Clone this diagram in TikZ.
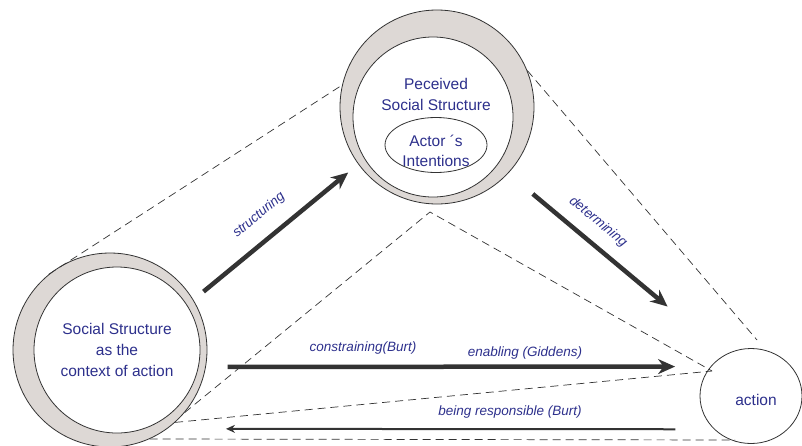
\documentclass[tikz,border=0pt]{standalone}
\usepackage{fontspec}
\setmainfont{Liberation Sans}
\usepackage{tikz}
\usetikzlibrary{arrows.meta,positioning,shapes}

\definecolor{textblue}{RGB}{45,48,140}
\definecolor{ringgray}{RGB}{221,216,213}
\definecolor{linegray}{RGB}{51,51,51}

\begin{document}
\begin{tikzpicture}[x=1pt, y=-1pt,
    ring/.style={circle, draw=linegray, line width=0.8pt, fill=ringgray, inner sep=0pt},
    hole/.style={circle, draw=linegray, line width=0.8pt, fill=white, inner sep=0pt},
    oval/.style={ellipse, draw=linegray, line width=0.8pt, fill=white, inner sep=0pt},
    txt/.style={text=textblue, font=\fontsize{15.5}{21}\selectfont, align=center},
    lbl/.style={text=textblue, font=\fontsize{13.5}{16}\selectfont\itshape},
    guide/.style={draw=linegray, line width=0.7pt, dash pattern=on 8pt off 5pt},
    push/.style={draw=linegray, line width=4.5pt, -{Stealth[length=17pt,width=15pt]}},
    back/.style={draw=linegray, line width=2pt, -{Stealth[length=9pt,width=8pt]}}]
    \useasboundingbox (0,0) rectangle (802,445);

    % Perceived structure (top)
    \node[ring, minimum size=194pt] (topout) at (437,107) {};
    \node[hole, minimum size=160pt] (topin) at (433,117) {};
    \node[oval, minimum width=102pt, minimum height=55pt] (intent) at (436,145) {};
    \node[txt] (topname) at (436,94) {Peceived\\Social Structure};
    \node[txt, font=\fontsize{15.5}{20}\selectfont] (intentname) at (436,151) {Actor ´s\\Intentions};

    % Social structure (left)
    \node[ring, minimum size=194pt] (ctxout) at (110,350) {};
    \node[hole, minimum size=166pt] (ctxin) at (117,350) {};
    \node[txt] (ctxname) at (117,350) {Social Structure\\as the\\context of action};

    % Action
    \node[oval, minimum width=102pt, minimum height=95pt] (act) at (751,396) {};
    \node[txt] (actname) at (756,400) {action};

    % Dashed guide lines
    \coordinate (apex) at (430,212);
    \coordinate (meet) at (712,371);
    \coordinate (acttop) at (757,340);
    \coordinate (actfoot) at (735,440);
    \draw[guide] (ctxout.129) -- (topout.167);
    \draw[guide] (ctxout.-40) -- (apex) -- (meet);
    \draw[guide] (topout.22) -- (acttop);
    \draw[guide] (ctxout.-48) -- (meet);
    \draw[guide] (ctxout.-66) -- (actfoot);

    % Arrows
    \draw[push, shorten <=13pt, shorten >=13pt] (ctxout.31.5) -- (topout.216.6);
    \draw[push, shorten <=32pt, shorten >=75pt] (topout.-43.3) -- (act.122.7);
    \draw[push, shorten <=21.6pt, shorten >=35.4pt] (ctxout.-10.4) -- (act.144.9);
    \draw[back, shorten <=38.7pt, shorten >=58.7pt] (act.222.3) -- (ctxout.-54.5);

    % Arrow labels
    \node[lbl, rotate=40] (lstruct) at (259,215) {structuring};
    \node[lbl, rotate=-40] (ldet) at (598,222) {determining};
    \node[lbl] (lcons) at (363,348) {constraining(Burt)};
    \node[lbl] (lenab) at (525,353) {enabling (Giddens)};
    \node[lbl] (lresp) at (510,412) {being responsible (Burt)};
\end{tikzpicture}
\end{document}
